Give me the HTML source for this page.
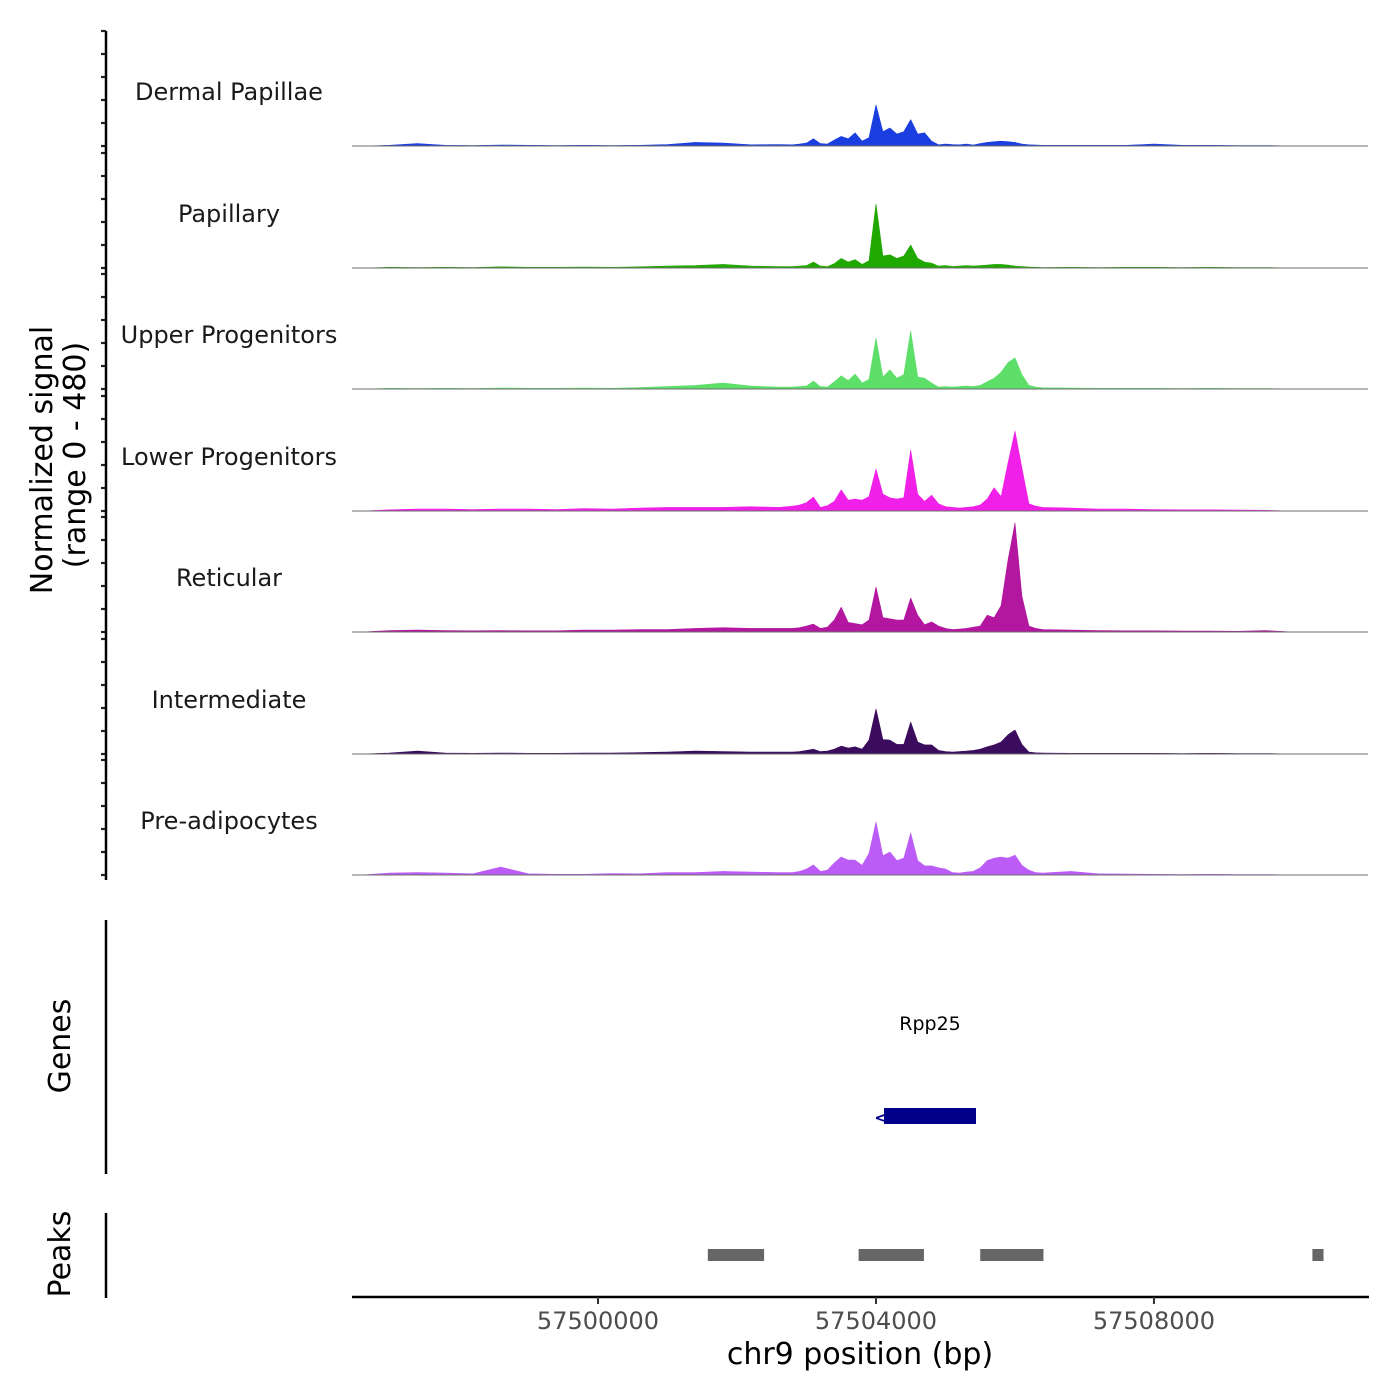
<!DOCTYPE html>
<html><head><meta charset="utf-8">
<style>
html,body{margin:0;padding:0;background:#fff;}
svg{display:block;font-family:"DejaVu Sans","Liberation Sans",sans-serif;}
</style></head>
<body>
<svg id="chart" width="1400" height="1400" viewBox="0 0 1400 1400" xmlns="http://www.w3.org/2000/svg">
  <g id="tracks"></g>
  <g id="yaxis"></g>
  <text transform="translate(52,460) rotate(-90)" text-anchor="middle" font-size="30" fill="#000">Normalized signal</text>
  <text transform="translate(85,455) rotate(-90)" text-anchor="middle" font-size="30" fill="#000">(range 0 - 480)</text>

  <g>
    <line x1="106" y1="920" x2="106" y2="1174" stroke="#000" stroke-width="2.5"/>
    <text transform="translate(70,1046) rotate(-90)" text-anchor="middle" font-size="30">Genes</text>
    <text x="930" y="1030" text-anchor="middle" font-size="19">Rpp25</text>
    <rect x="884" y="1108" width="92" height="16" fill="#00008b"/>
    <text x="881" y="1123" text-anchor="middle" font-size="16" fill="#00008b" font-weight="bold">&lt;</text>
  </g>

  <g>
    <line x1="106" y1="1213" x2="106" y2="1298" stroke="#000" stroke-width="2.5"/>
    <text transform="translate(70,1254) rotate(-90)" text-anchor="middle" font-size="30">Peaks</text>
    <g id="peaks"></g>
  </g>

  <g id="xaxis">
    <line x1="352" y1="1297" x2="1369" y2="1297" stroke="#000" stroke-width="2.5"/>
  </g>
  <text x="860" y="1364" text-anchor="middle" font-size="30">chr9 position (bp)</text>
</svg>
<script>
const trackNames = ["Dermal Papillae","Papillary","Upper Progenitors","Lower Progenitors","Reticular","Intermediate","Pre-adipocytes"];
const trackColors = ["#1a3ee0","#20a800","#5ddf6a","#f020e8","#b3169f","#3b0c5e","#bb5cf6"];
const positions = [57496600,57497000,57497400,57497800,57498200,57498600,57499000,57499400,57499800,57500200,57500600,57501000,57501400,57501800,57502200,57502600,
57502800,57502900,57503000,57503100,57503200,57503300,57503400,57503500,57503600,57503700,57503800,57503900,57504000,57504100,57504200,57504300,57504400,57504500,57504600,57504700,57504800,57504900,57505000,57505100,57505200,57505300,57505400,57505500,57505600,57505700,57505800,57505900,57506000,57506100,57506200,57506300,57506400,
57506800,57507200,57507600,57508000,57508400,57508800,57509200,57509600,57510000,57510400,57510800];
const dermalPapillae = [0,3,10,3,2,4,3,2,3,2,3,6,15,12,5,6,
5,8,12,30,10,8,25,40,30,55,20,35,171,60,75,50,60,110,50,55,20,5,8,6,5,8,4,10,15,18,20,18,15,8,5,4,3,
3,3,3,8,3,3,2,2,0,0,0];
const papillary = [0,3,2,3,2,5,3,3,4,3,5,8,10,15,8,6,
6,8,10,25,8,6,18,40,25,35,15,30,267,50,55,40,50,96,40,25,20,8,10,6,8,10,8,10,12,15,15,12,8,6,4,3,2,
3,2,3,3,2,3,2,2,0,0,0];
const upperProgenitors = [0,3,2,3,2,4,3,3,4,3,6,10,15,25,12,8,
8,10,12,33,10,8,30,55,35,62,25,40,213,50,80,45,60,242,50,45,25,8,10,8,10,12,10,15,30,45,70,110,130,60,15,8,5,
4,3,3,3,2,3,2,2,0,0,0];
const lowerProgenitors = [0,5,8,8,6,8,8,6,10,8,12,15,15,15,18,15,
20,25,35,58,15,22,40,88,45,50,45,60,175,70,55,50,55,254,70,40,66,30,18,15,12,15,18,25,50,97,60,200,333,180,30,20,15,
12,8,8,6,5,5,4,3,0,0,0];
const reticular = [0,6,8,6,5,6,5,5,8,8,10,10,15,18,15,15,
15,18,25,33,15,20,50,104,40,35,30,50,188,60,55,50,50,142,70,30,42,25,15,10,12,15,20,25,70,60,110,300,455,150,25,15,10,
8,6,5,5,4,4,3,6,0,0,0];
const intermediate = [0,4,12,4,3,4,3,3,4,4,6,8,12,10,8,8,
8,10,15,20,10,12,20,33,25,30,20,58,188,60,58,40,40,133,50,38,38,15,10,8,10,12,15,20,30,38,50,80,100,40,8,5,4,
3,3,3,3,2,3,2,2,0,0,0];
const preAdipocytes = [0,8,10,8,5,33,5,3,3,6,5,10,10,15,12,10,
10,15,25,42,15,20,50,75,62,62,40,90,221,80,96,60,70,175,60,38,38,30,25,10,8,12,15,30,60,70,75,70,83,40,20,10,8,
15,5,4,3,2,3,2,2,0,0,0];
const trackValues = [dermalPapillae,papillary,upperProgenitors,lowerProgenitors,reticular,intermediate,preAdipocytes];
const xTicks = [57500000,57504000,57508000];
const xTickLabels = ["57500000","57504000","57508000"];
const peakStarts = [57501580,57503750,57505500,57510280];
const peakEnds = [57502390,57504690,57506410,57510440];
const yMax = 480;

const NS="http://www.w3.org/2000/svg";
const X0=352, X1=1368, BP0=57496460, BP1=57511080;
function xs(bp){return X0+(bp-BP0)/(BP1-BP0)*(X1-X0);}
const baselines=[146,268,389,511,632,754,875];
const trackH=115;
function ys(v,i){return baselines[i]-v/yMax*trackH;}
function mk(tag,attrs,parent){const e=document.createElementNS(NS,tag);for(const k in attrs)e.setAttribute(k,attrs[k]);parent.appendChild(e);return e;}

const tracks=document.getElementById('tracks');
const yaxis=document.getElementById('yaxis');
trackValues.forEach((vals,i)=>{
  const g=mk('g',{},tracks);
  
  
  let d='M'+xs(positions[0])+','+baselines[i];
  positions.forEach((p,j)=>{d+=' L'+xs(p).toFixed(1)+','+ys(vals[j],i).toFixed(1);});
  d+=' L'+xs(positions[positions.length-1])+','+baselines[i]+' Z';
  const a=mk('path',{d:d,fill:trackColors[i],stroke:trackColors[i],'stroke-width':0.6,'stroke-linejoin':'round'},g);
  
  
  const bl=mk('line',{x1:X0,x2:X1,y1:baselines[i],y2:baselines[i],stroke:'#6e6e6e','stroke-width':1},g);
  
  
  const t=mk('text',{x:229,y:baselines[i]-46,'text-anchor':'middle','font-size':24,fill:'#1a1a1a'},g);
  t.textContent=trackNames[i];
  
  
  for(let k=0;k<=5;k++){
    const ty=ys(k*96,i);
    const tk=mk('line',{x1:101,x2:106,y1:ty,y2:ty,stroke:'#222','stroke-width':2.2},yaxis);
    
    
  }
});
const yl=mk('line',{x1:106,x2:106,y1:31,y2:880,stroke:'#000','stroke-width':2.5},yaxis);



const pk=document.getElementById('peaks');
peakStarts.forEach((s,i)=>{
  const r=mk('rect',{x:xs(s),y:1249,width:xs(peakEnds[i])-xs(s),height:12,fill:'#666666'},pk);
  
  
});
const xa=document.getElementById('xaxis');
xTicks.forEach((t,i)=>{
  const l=mk('line',{x1:xs(t),x2:xs(t),y1:1297,y2:1304,stroke:'#333','stroke-width':2},xa);
  
  
  const tx=mk('text',{x:xs(t),y:1329,'text-anchor':'middle','font-size':24,fill:'#4d4d4d'},xa);
  tx.textContent=xTickLabels[i];
  
  
});
</script>
</body></html>
